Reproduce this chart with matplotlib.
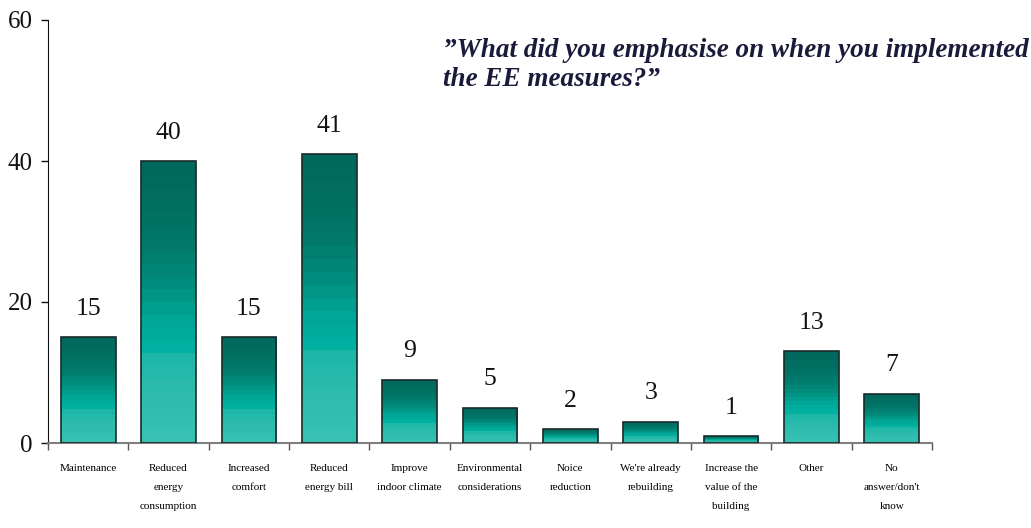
import matplotlib
matplotlib.use("Agg")
import matplotlib.pyplot as plt
import numpy as np
from matplotlib.colors import LinearSegmentedColormap
from matplotlib.patches import Rectangle

categories = [
    "Maintenance",
    "Reduced\nenergy\nconsumption",
    "Increased\ncomfort",
    "Reduced\nenergy bill",
    "Improve\nindoor climate",
    "Environmental\nconsiderations",
    "Noice\nreduction",
    "We're already\nrebuilding",
    "Increase the\nvalue of the\nbuilding",
    "Other",
    "No\nanswer/don't\nknow",
]
values = [15, 40, 15, 41, 9, 5, 2, 3, 1, 13, 7]
yticks = [0, 20, 40, 60]
title = "\u201dWhat did you emphasise on when you implemented\nthe EE measures?\u201d"

serif = ["Liberation Serif", "DejaVu Serif"]

W, H = 1031, 528
fig = plt.figure(figsize=(W / 100, H / 100), dpi=100)
ax = fig.add_axes([48 / W, 85 / H, 884 / W, 423 / H])

x = np.arange(len(values))
bw = 0.68
cmap = LinearSegmentedColormap.from_list(
    "teal",
    [(0.0, "#36C1B3"), (0.15, "#2DBCAE"), (0.27, "#1FB8A8"), (0.30, "#00B3A3"),
     (0.42, "#00A595"), (0.55, "#008C7D"), (0.70, "#007668"), (1.0, "#00665A")],
)
nb = 22
grad = np.floor(np.linspace(0, 1, 200) * nb) / nb
grad = grad.reshape(-1, 1)

bars = ax.bar(x, values, width=bw, color="none", edgecolor="#1a2a2a", linewidth=1.2, zorder=3)
for b, v in zip(bars, values):
    x0 = b.get_x()
    im = ax.imshow(grad, cmap=cmap, origin="lower", aspect="auto",
                   extent=(x0, x0 + bw, 0, v), zorder=2, interpolation="nearest")
    clip = Rectangle((x0, 0), bw, v, transform=ax.transData)
    im.set_clip_path(clip)
    ax.annotate(str(v), (b.get_x() + bw / 2, v), xytext=(0, 12.5), textcoords="offset points",
                ha="center", va="bottom", fontsize=18.5, family=serif, color="#111111")

ax.set_xlim(-0.5, len(values) - 0.5)
ax.set_ylim(0, 60)
ax.set_yticks(yticks)
ax.set_yticklabels([str(t) for t in yticks], family=serif, fontsize=18)
ax.tick_params(axis="y", direction="out", length=5, width=1, pad=6, colors="#111111")

ax.set_xticks(x)
ax.set_xticklabels(categories, family=serif, fontsize=8, linespacing=2.45, va="top")
ax.tick_params(axis="x", which="major", length=0, pad=15)
ax.set_xticks(np.arange(-0.5, len(values)), minor=True)
ax.tick_params(axis="x", which="minor", direction="out", length=5, width=1, color="#555555")

for s in ["top", "right"]:
    ax.spines[s].set_visible(False)
ax.spines["left"].set_color("#111111")
ax.spines["bottom"].set_color("#808080")
ax.spines["bottom"].set_linewidth(1.5)

fig.text(443 / W, 1 - 38 / H, title, ha="left", va="top", fontsize=19.5, family=serif,
         style="italic", weight="bold", color="#1a1a3a", linespacing=1.22)

fig.savefig("out.png", dpi=100)
